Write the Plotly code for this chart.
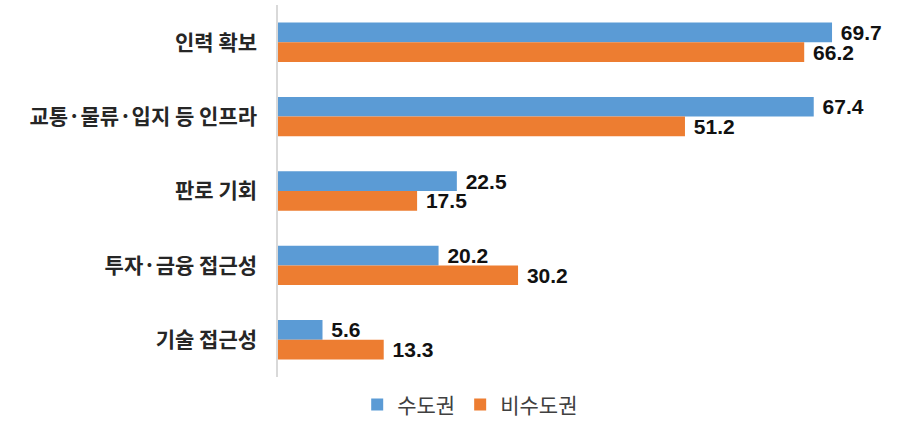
import plotly.graph_objects as go

categories = ["인력 확보", "교통·물류·입지 등 인프라", "판로 기회", "투자·금융 접근성", "기술 접근성"]
capital = [69.7, 67.4, 22.5, 20.2, 5.6]
non_capital = [66.2, 51.2, 17.5, 30.2, 13.3]
series_names = ["수도권", "비수도권"]

KFONT = "Noto Sans CJK KR"
NFONT = "Liberation Sans"

fig = go.Figure()
for vals, name, color in [(capital, series_names[0], "#5B9BD5"),
                          (non_capital, series_names[1], "#ED7D31")]:
    fig.add_trace(go.Bar(
        y=categories, x=vals, name=name, orientation="h",
        marker=dict(color=color, line=dict(width=0)),
        text=[f" {v:.1f}" for v in vals], textposition="outside",
        textfont=dict(family=NFONT, size=21, color="#111111", weight="bold"),
        constraintext="none", cliponaxis=False,
    ))

fig.update_layout(
    width=900, height=427,
    margin=dict(l=278, r=2, t=5, b=42),
    barmode="group", bargap=0.47, bargroupgap=0,
    plot_bgcolor="white", paper_bgcolor="white",
    font=dict(family=KFONT, size=21, color="#404040"),
    xaxis=dict(range=[0, 78], visible=False, automargin=False),
    yaxis=dict(autorange="reversed", showline=True, linecolor="#d9d9d9",
               linewidth=1.5, ticks="", ticklabelstandoff=15, automargin=False,
               tickfont=dict(family=KFONT, size=21, color="#262626", weight="bold")),
    legend=dict(orientation="h", x=0.31, xanchor="center", y=-0.02,
                yanchor="top", font=dict(family=KFONT, size=21, color="#404040"),
                itemwidth=30),
    showlegend=True,
)

# page body has a default 8px margin; drop it so the figure sits at 0,0
fig.write_html("out.html", config={"displayModeBar": False},
               post_script="document.body.style.margin='0';")
